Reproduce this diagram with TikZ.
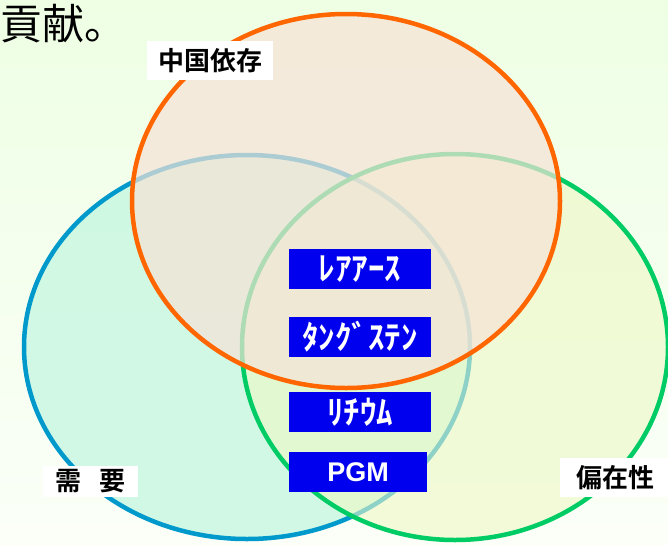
\documentclass[tikz,border=0pt]{standalone}
\usepackage{fontspec}
\newfontfamily\jp{Noto Sans CJK JP}
\newfontfamily\jpb{Noto Sans CJK JP Bold}
\newfontfamily\lsb{Liberation Sans}
\definecolor{bgtop}{HTML}{EEFFE4}
\definecolor{bgbot}{HTML}{FBFFF8}
\definecolor{orng}{HTML}{FF6600}
\definecolor{blu}{HTML}{0099CC}
\definecolor{grn}{HTML}{00CC66}
\definecolor{orfill}{HTML}{F6E2D6}
\definecolor{blfill}{HTML}{C4F6E0}
\definecolor{grfill}{HTML}{EDF8C4}
\definecolor{boxblue}{HTML}{0000EE}
\tikzset{
  ring/.style={line width=4.5pt},
  lab/.style={fill=white, inner sep=0pt, text=black, font=\jpb\fontsize{26}{28}\selectfont},
  item/.style={fill=boxblue, text=white, inner sep=0pt, minimum width=142pt, minimum height=40pt},
  kana/.style={font=\jpb\fontsize{33}{35}\selectfont},
}
\begin{document}
\begin{tikzpicture}[x=1pt,y=-1pt]
\useasboundingbox (0,0) rectangle (668,544);
\shade[top color=bgtop, bottom color=bgbot] (0,0) rectangle (668,544);
% ellipses
\path[fill=blfill, fill opacity=0.75] (247,347) ellipse [x radius=223, y radius=192];
\draw[ring, draw=blu] (247,347) ellipse [x radius=223, y radius=192];
\path[fill=grfill, fill opacity=0.6] (455,347) ellipse [x radius=213, y radius=193];
\draw[ring, draw=grn] (455,347) ellipse [x radius=213, y radius=193];
\path[fill=orfill, fill opacity=0.7] (346,201) ellipse [x radius=214, y radius=187];
\draw[ring, draw=orng] (346,201) ellipse [x radius=214, y radius=187];
% heading fragment
\node[anchor=west, inner sep=0pt, font=\jp\fontsize{42}{46}\selectfont] (head) at (0,24) {貢献。};
% labels
\node[lab, minimum width=126pt, minimum height=39pt] (china) at (210,60.5) {中国依存};
\node[lab, minimum width=95pt, minimum height=31pt] (demand) at (90.5,481.5) {需\hspace{19pt}要};
\node[lab, minimum width=110pt, minimum height=39pt] (uneven) at (615,477.5) {偏在性};
% items
\node[item, kana] (ree) at (360,269) {ﾚｱｱｰｽ};
\node[item, kana] (w) at (360,337) {ﾀﾝｸﾞｽﾃﾝ};
\node[item, kana] (li) at (360,412) {ﾘﾁｳﾑ};
\node[item, minimum width=138pt, font=\lsb\bfseries\fontsize{27}{29}\selectfont] (pgm) at (358,472) {PGM};
\end{tikzpicture}
\end{document}
